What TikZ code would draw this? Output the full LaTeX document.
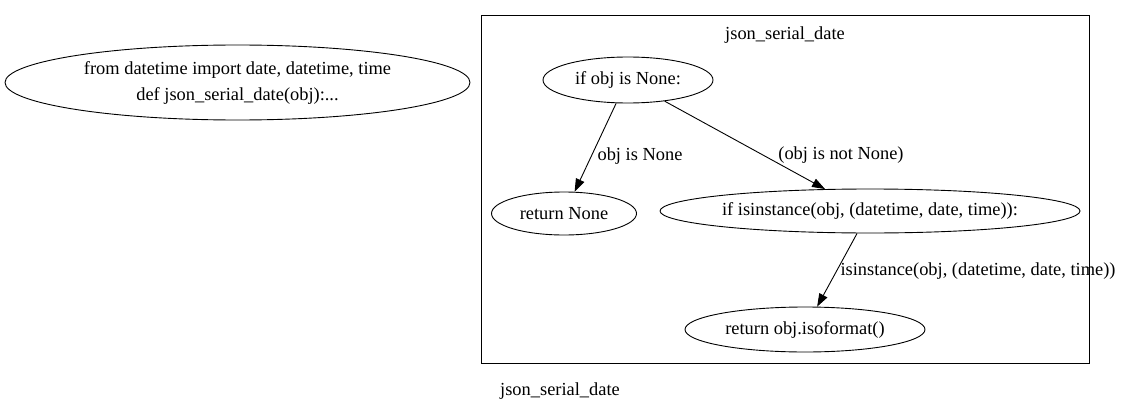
\documentclass[tikz,border=0pt]{standalone}
\usepackage{fontspec}
\setmainfont{Liberation Serif}
\usetikzlibrary{shapes.geometric,arrows.meta}
\begin{document}
\begin{tikzpicture}[x=1pt,y=-1pt,
  every node/.style={font=\fontsize{18.4}{26}\selectfont},
  oval/.style={draw,ellipse,inner sep=0pt,line width=0.9pt},
  edge/.style={draw,line width=0.9pt,-{Triangle[length=13pt,width=9pt]}},
  elabel/.style={inner sep=0pt,anchor=center}]
\useasboundingbox (0,0) rectangle (1121,412);
\node[oval,minimum width=465pt,minimum height=75pt,align=center] (hdr) at (237.5,82.5)
  {from datetime import date, datetime, time\\def json\_serial\_date(obj):...};
\draw[line width=0.9pt] (481,15) rectangle (1089,363);
\node (title) at (785,35) {json\_serial\_date};
\node[oval,minimum width=170pt,minimum height=46pt] (ifnone) at (628,80) {if obj is None:};
\node[oval,minimum width=145pt,minimum height=43pt] (retnone) at (564,213.5) {return None};
\node[oval,minimum width=420pt,minimum height=44pt] (ifinst) at (870,211) {if isinstance(obj, (datetime, date, time)):};
\node[oval,minimum width=240pt,minimum height=45pt] (retiso) at (805,329.5) {return obj.isoformat()};
\draw[edge] (ifnone.-117) -- (retnone.64);
\draw[edge] (ifnone.-30) -- (ifinst.154);
\draw[edge] (ifinst.-120) -- (retiso.62);
\node[elabel] (l1) at (640,156) {obj is None};
\node[elabel] (l2) at (841,155) {(obj is not None)};
\node[elabel] (l3) at (978,271) {isinstance(obj, (datetime, date, time))};
\node (foot) at (560,391) {json\_serial\_date};
\end{tikzpicture}
\end{document}
